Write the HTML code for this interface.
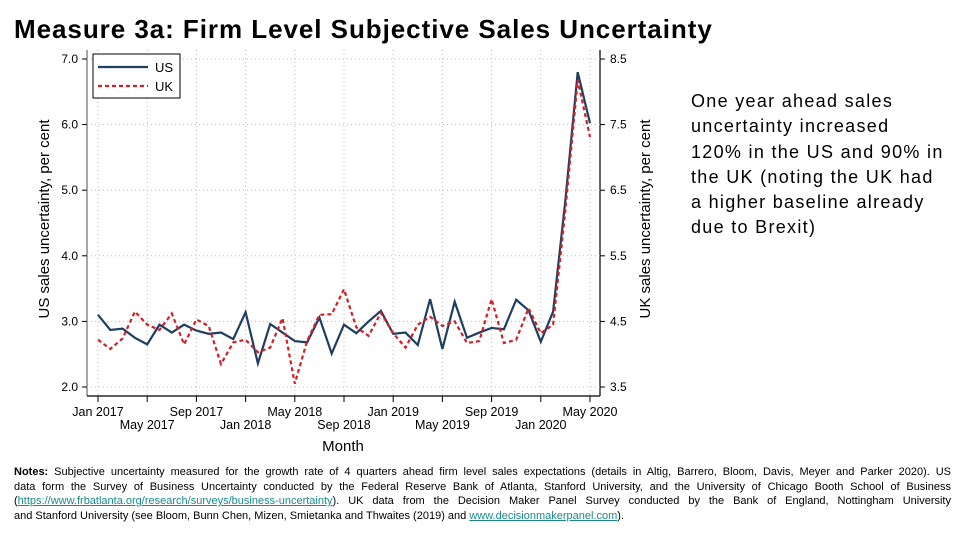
<!DOCTYPE html>
<html><head><meta charset="utf-8"><style>
body{margin:0;width:960px;height:540px;background:#fff;font-family:"Liberation Sans",Arial,sans-serif;position:relative;overflow:hidden}
#title{position:absolute;left:14px;top:14px;font-size:26px;letter-spacing:0.95px;font-weight:bold;color:#000;white-space:nowrap}
#side{position:absolute;left:691px;top:89px;width:270px;font-size:18px;letter-spacing:1.3px;line-height:25.3px;color:#000;white-space:nowrap}
#notes{position:absolute;left:14px;top:465px;width:937px;font-size:11px;line-height:14.6px;color:#000}
#notes div{text-align:justify;text-align-last:justify;white-space:nowrap}
#notes div.last{text-align-last:left}
a{color:#1a8a8a;text-decoration:underline}
</style></head><body>
<div id="title">Measure 3a: Firm Level Subjective Sales Uncertainty</div>
<svg id="chart" width="960" height="460" style="position:absolute;left:0;top:0" font-family="Liberation Sans, Arial, sans-serif"></svg>
<div id="side">One year ahead sales<br>uncertainty increased<br>120% in the US and 90% in<br>the UK (noting the UK had<br>a higher baseline already<br>due to Brexit)</div>
<div id="notes">
<div style="white-space:normal;text-align-last:justify"><b>Notes:</b> Subjective uncertainty measured for the growth rate of 4 quarters ahead firm level sales expectations (details in Altig, Barrero, Bloom, Davis, Meyer and Parker 2020). US</div>
<div style="white-space:normal;text-align-last:justify">data form the Survey of Business Uncertainty conducted by the Federal Reserve Bank of Atlanta, Stanford University, and the University of Chicago Booth School of Business</div>
<div style="white-space:normal;text-align-last:justify">(<a>https://www.frbatlanta.org/research/surveys/business-uncertainty</a>). UK data from the Decision Maker Panel Survey conducted by the Bank of England, Nottingham University</div>
<div class="last" style="white-space:normal">and Stanford University (see Bloom, Bunn Chen, Mizen, Smietanka and Thwaites (2019) and <a>www.decisionmakerpanel.com</a>).</div>
</div>
<script>
const months=["Jan 2017","May 2017","Sep 2017","Jan 2018","May 2018","Sep 2018","Jan 2019","May 2019","Sep 2019","Jan 2020","May 2020"];
const usValues=[3.1,2.87,2.89,2.75,2.65,2.95,2.83,2.95,2.86,2.81,2.83,2.73,3.14,2.36,2.96,2.83,2.7,2.68,3.06,2.51,2.95,2.82,3.0,3.16,2.81,2.83,2.64,3.34,2.58,3.3,2.75,2.83,2.9,2.88,3.33,3.17,2.69,3.15,4.85,6.8,6.02];
const ukValues=[4.22,4.08,4.24,4.65,4.45,4.37,4.62,4.15,4.53,4.43,3.85,4.18,4.22,4.03,4.1,4.55,3.55,4.2,4.6,4.61,4.99,4.41,4.28,4.63,4.32,4.1,4.45,4.57,4.43,4.5,4.17,4.2,4.84,4.17,4.22,4.7,4.32,4.45,6.2,8.18,7.31];
const usTicks=[2,3,4,5,6,7];
const ukTicks=[3.5,4.5,5.5,6.5,7.5,8.5];
const svg=document.getElementById('chart');const NS='http://www.w3.org/2000/svg';
const x=i=>98+i*(492/40);
const yL=v=>387-(v-2)*65.6;
const yR=v=>387-(v-3.5)*65.6;
function mk(t,a,p){const e=document.createElementNS(NS,t);for(const k in a)e.setAttribute(k,a[k]);(p||svg).appendChild(e);return e;}
let ax=mk('line',{x1:87,y1:50,x2:87,y2:396,stroke:'#888','stroke-width':1.5});

ax=mk('line',{x1:600,y1:50,x2:600,y2:396,stroke:'#000','stroke-width':1.2});

ax=mk('line',{x1:87,y1:396,x2:600,y2:396,stroke:'#000','stroke-width':1.2});

usTicks.forEach(v=>{const y=yL(v);
 const g=mk('line',{x1:87,x2:600,y1:y,y2:y,stroke:'#bbb','stroke-dasharray':'1,3'});
 
 mk('line',{x1:82,x2:87,y1:y,y2:y,stroke:'#000'});
 const t=mk('text',{x:78,y:y+4,'text-anchor':'end','font-size':12});t.textContent=v.toFixed(1);
 });
ukTicks.forEach(v=>{const y=yR(v);mk('line',{x1:600,x2:605,y1:y,y2:y,stroke:'#000'});
 const t=mk('text',{x:610,y:y+4,'font-size':12});t.textContent=v.toFixed(1);
 });
months.forEach((m,k)=>{const xx=x(k*4);
 const g=mk('line',{x1:xx,x2:xx,y1:50,y2:396,stroke:'#bbb','stroke-dasharray':'1,3'});
 
 mk('line',{x1:xx,x2:xx,y1:396,y2:402,stroke:'#000'});
 const t=mk('text',{x:xx,y:k%2?429:416,'text-anchor':'middle','font-size':12.5});t.textContent=m;
 });
let t=mk('text',{x:343,y:451,'text-anchor':'middle','font-size':15});t.textContent='Month';

t=mk('text',{x:0,y:0,'text-anchor':'middle','font-size':15,transform:'translate(49,219) rotate(-90)'});t.textContent='US sales uncertainty, per cent';

t=mk('text',{x:0,y:0,'text-anchor':'middle','font-size':15,transform:'translate(650,219) rotate(-90)'});t.textContent='UK sales uncertainty, per cent';

const us=mk('polyline',{points:usValues.map((v,i)=>x(i)+','+yL(v)).join(' '),fill:'none',stroke:'#1f3f5f','stroke-width':2.2});

const uk=mk('polyline',{points:ukValues.map((v,i)=>x(i)+','+yR(v)).join(' '),fill:'none',stroke:'#d0202a','stroke-width':2.2,'stroke-dasharray':'4,3'});

const lg=mk('g',{});
mk('rect',{x:93,y:54,width:87,height:44,fill:'#fff',stroke:'#000','stroke-width':1},lg);
mk('line',{x1:98,x2:148,y1:67,y2:67,stroke:'#1f3f5f','stroke-width':2.2},lg);
mk('line',{x1:98,x2:148,y1:86,y2:86,stroke:'#d0202a','stroke-width':2.2,'stroke-dasharray':'4,3'},lg);
t=mk('text',{x:155,y:72,'font-size':13},lg);t.textContent='US';
t=mk('text',{x:155,y:91,'font-size':13},lg);t.textContent='UK';
</script>
</body></html>
